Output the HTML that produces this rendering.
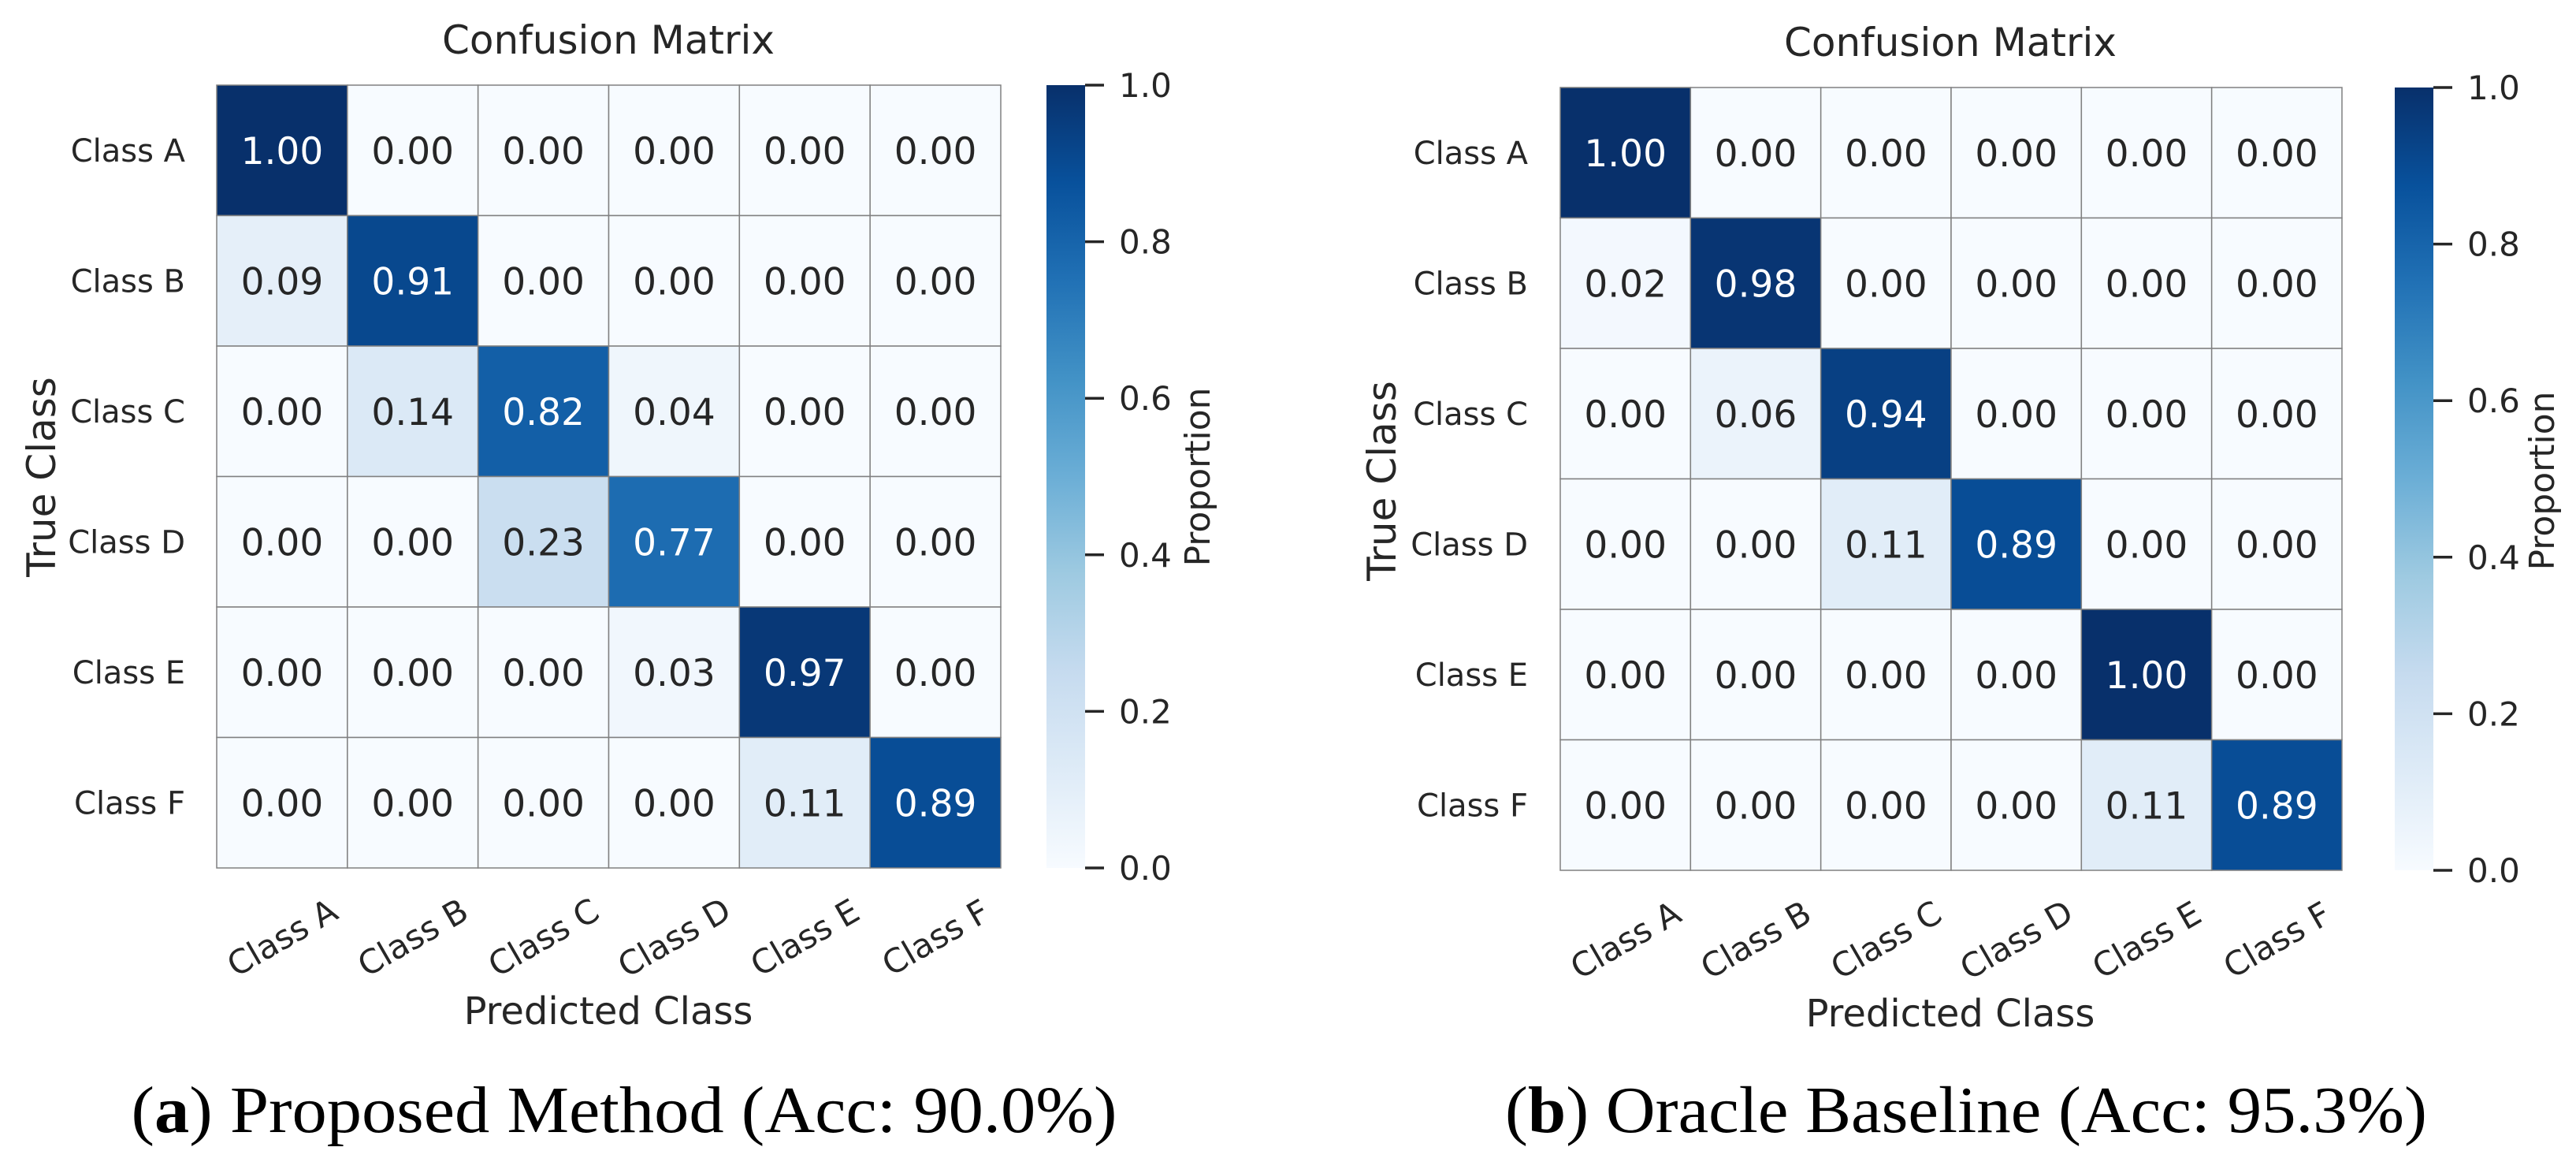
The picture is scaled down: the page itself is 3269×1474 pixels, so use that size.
<!DOCTYPE html>
<html><head><meta charset="utf-8">
<style>
html,body{margin:0;padding:0;background:#fff;}
svg{display:block;font-family:"DejaVu Sans","Liberation Sans",sans-serif;}
</style></head>
<body>
<svg id="fig" width="3269" height="1474" viewBox="0 0 3269 1474" xmlns="http://www.w3.org/2000/svg">
<defs>
<linearGradient id="blues" x1="0" y1="1" x2="0" y2="0">
<stop offset="0" stop-color="#f7fbff"/><stop offset="0.125" stop-color="#deebf7"/>
<stop offset="0.25" stop-color="#c6dbef"/><stop offset="0.375" stop-color="#9ecae1"/>
<stop offset="0.5" stop-color="#6baed6"/><stop offset="0.625" stop-color="#4292c6"/>
<stop offset="0.75" stop-color="#2171b5"/><stop offset="0.875" stop-color="#08519c"/>
<stop offset="1" stop-color="#08306b"/>
</linearGradient>
</defs>
</svg>
<script>
const classes = ["Class A","Class B","Class C","Class D","Class E","Class F"];
const matrixA = [
 [1.00,0.00,0.00,0.00,0.00,0.00],
 [0.09,0.91,0.00,0.00,0.00,0.00],
 [0.00,0.14,0.82,0.04,0.00,0.00],
 [0.00,0.00,0.23,0.77,0.00,0.00],
 [0.00,0.00,0.00,0.03,0.97,0.00],
 [0.00,0.00,0.00,0.00,0.11,0.89]];
const matrixB = [
 [1.00,0.00,0.00,0.00,0.00,0.00],
 [0.02,0.98,0.00,0.00,0.00,0.00],
 [0.00,0.06,0.94,0.00,0.00,0.00],
 [0.00,0.00,0.11,0.89,0.00,0.00],
 [0.00,0.00,0.00,0.00,1.00,0.00],
 [0.00,0.00,0.00,0.00,0.11,0.89]];
const cbarTicks = [0.0,0.2,0.4,0.6,0.8,1.0];
const captionA = ["a","Proposed Method (Acc: 90.0%)"];
const captionB = ["b","Oracle Baseline (Acc: 95.3%)"];

const stops=[[0,[247,251,255]],[0.125,[222,235,247]],[0.25,[198,219,239]],[0.375,[158,202,225]],[0.5,[107,174,214]],[0.625,[66,146,198]],[0.75,[33,113,181]],[0.875,[8,81,156]],[1,[8,48,107]]];
function blues(v){v=Math.max(0,Math.min(1,v));for(let i=1;i<stops.length;i++){if(v<=stops[i][0]){const a=stops[i-1],b=stops[i];const t=(v-a[0])/(b[0]-a[0]);const c=a[1].map((x,k)=>Math.round(x+(b[1][k]-x)*t));return `rgb(${c})`;}}return 'rgb(8,48,107)';}
const NS="http://www.w3.org/2000/svg";
const svg=document.getElementById('fig');
function el(tag,attrs,parent,text){const e=document.createElementNS(NS,tag);for(const k in attrs)e.setAttribute(k,attrs[k]);if(text!==undefined)e.textContent=text;(parent||svg).appendChild(e);return e;}

function panel(M,L,cap,id){
  const g=el('g',{});
  
  
  const n=classes.length, cw=(L.x1-L.x0)/n, ch=(L.y1-L.y0)/n;
  const xs=i=>L.x0+i*cw, ys=j=>L.y0+j*ch;
  for(let r=0;r<n;r++)for(let c=0;c<n;c++){
    const v=M[r][c];
    const rc=el('rect',{x:xs(c),y:ys(r),width:cw,height:ch,fill:blues(v),stroke:'#808080','stroke-width':1.5},g);
    
    
    const t=el('text',{x:xs(c)+cw/2,y:ys(r)+ch/2+17,'text-anchor':'middle','font-size':47,fill:v>0.5?'#ffffff':'#262626'},g,v.toFixed(2));
    
    
  }
  classes.forEach((cl,i)=>{
    const t=el('text',{x:L.ylab,y:ys(i)+ch/2+14,'text-anchor':'end','font-size':40,fill:'#262626'},g,cl);
    
    
    const cx=xs(i)+cw/2, cy=L.y1+88;
    const t2=el('text',{x:cx,y:cy+15,'text-anchor':'middle','font-size':42,fill:'#262626',transform:`rotate(-30 ${cx} ${cy})`},g,cl);
    
    
  });
  const ti=el('text',{x:L.tx,y:L.ty,'text-anchor':'middle','font-size':50,fill:'#262626'},g,'Confusion Matrix');
  
  
  const xl=el('text',{x:L.tx,y:L.xly,'text-anchor':'middle','font-size':48,fill:'#262626'},g,'Predicted Class');
  
  
  const yl=el('text',{x:L.ylx,y:L.yly+17,'text-anchor':'middle','font-size':50,fill:'#262626',transform:`rotate(-90 ${L.ylx} ${L.yly})`},g,'True Class');
  
  
  const cb=el('rect',{x:L.cb0,y:L.y0,width:L.cb1-L.cb0,height:L.y1-L.y0,fill:'url(#blues)'},g);
  
  
  const cy=v=>L.y1-(L.y1-L.y0)*v;
  cbarTicks.forEach(v=>{
    const ln=el('line',{x1:L.cb1,x2:L.cb1+24,y1:cy(v),y2:cy(v),stroke:'#262626','stroke-width':3.5},g);
    
    
    const t=el('text',{x:L.cb1+43,y:cy(v)+15,'font-size':42,fill:'#262626'},g,v.toFixed(1));
    
    
  });
  const pl=el('text',{x:L.plx,y:L.yly+15,'text-anchor':'middle','font-size':44,fill:'#262626',transform:`rotate(-90 ${L.plx} ${L.yly})`},g,'Proportion');
  
  
  const c=el('text',{x:L.capx,y:1436,'text-anchor':'middle','font-size':84,fill:'#000','font-family':'"Liberation Serif",serif',textLength:L.capw,lengthAdjust:'spacingAndGlyphs'},g);
  
  
  el('tspan',{},c,'(');
  el('tspan',{'font-weight':'bold'},c,cap[0]);
  el('tspan',{},c,') '+cap[1]);
}
panel(matrixA,{x0:275,x1:1270,y0:108,y1:1101,ylab:235,tx:772,ty:68,xly:1299,ylx:53,yly:605,cb0:1328,cb1:1377,plx:1520,capx:792,capw:1251},captionA,'a');
panel(matrixB,{x0:1980,x1:2972,y0:111,y1:1104,ylab:1939,tx:2475,ty:71,xly:1302,ylx:1754,yly:610,cb0:3039,cb1:3088,plx:3226,capx:2495,capw:1170},captionB,'b');
</script>
</body></html>
